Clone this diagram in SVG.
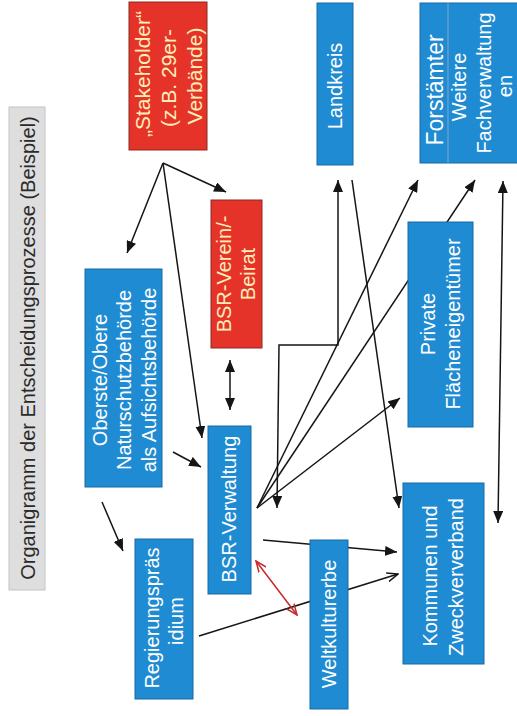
<svg xmlns="http://www.w3.org/2000/svg" width="517" height="716" viewBox="0 0 517 716">
<style>
text{font-family:"Liberation Sans",Arial,sans-serif;font-size:20px;text-anchor:middle}
.blue{fill:#1f8bd2;stroke:#1869a6;stroke-width:1}
.red{fill:#e5332a;stroke:#8a2a22;stroke-width:1}
.wt{fill:#ffffff}
.yt{fill:#fdeeb8}
.ln{fill:none;stroke:#151515;stroke-width:1.5}
.rl{fill:none;stroke:#c8282a;stroke-width:1.5}
</style>
<defs>
<marker id="ah" viewBox="0 0 12 10" refX="12" refY="5" markerWidth="12" markerHeight="10" markerUnits="userSpaceOnUse" orient="auto-start-reverse"><path d="M0,0 L12,5 L0,10 z" fill="#151515"/></marker>
<marker id="oa" viewBox="0 0 12 10" refX="11" refY="5" markerWidth="12" markerHeight="10" markerUnits="userSpaceOnUse" orient="auto-start-reverse"><path d="M0,0.5 L11,5 L0,9.5" fill="none" stroke="#151515" stroke-width="1.5"/></marker>
<marker id="ra" viewBox="0 0 12 10" refX="11" refY="5" markerWidth="12" markerHeight="10" markerUnits="userSpaceOnUse" orient="auto-start-reverse"><path d="M0,0.5 L11,5 L0,9.5" fill="none" stroke="#c8282a" stroke-width="1.5"/></marker>
</defs>
<rect width="517" height="716" fill="#ffffff"/>
<g id="connectors">
<path class="ln" d="M163,163 L127,253" marker-end="url(#ah)"/>
<path class="ln" d="M163,163 L226,192" marker-end="url(#ah)"/>
<path class="ln" d="M163,163 L202,438" marker-end="url(#ah)"/>
<path class="ln" d="M102,502 L123,551" marker-end="url(#ah)"/>
<path class="ln" d="M173,452 L201,467" marker-end="url(#ah)"/>
<path class="ln" d="M230,360 L230,410" marker-start="url(#ah)" marker-end="url(#ah)"/>
<path class="ln" d="M338,180 L338,345 L279,345 L277,508" marker-start="url(#ah)" marker-end="url(#ah)"/>
<path class="ln" d="M352,180 L399,508" marker-end="url(#ah)"/>
<path class="ln" d="M257,508 L418,180" marker-end="url(#ah)"/>
<path class="ln" d="M257,508 L475,180" marker-end="url(#ah)"/>
<path class="ln" d="M257,508 L400,398" marker-end="url(#ah)"/>
<path class="ln" d="M503,181 L498,523" marker-start="url(#ah)" marker-end="url(#ah)"/>
<path class="ln" d="M263,540 L397,552" marker-end="url(#ah)"/>
<path class="ln" d="M199,636 L398,574" marker-end="url(#oa)"/>
<path class="rl" d="M256,561 L297,615" marker-start="url(#ra)" marker-end="url(#ra)"/>
</g>
<g id="title">
<rect x="9" y="107" width="36" height="483" fill="#dedede" stroke="#c4c4c4" stroke-width="1"/>
<text fill="#2a2a2a" transform="translate(35,348) rotate(-90)">Organigramm der Entscheidungsprozesse (Beispiel)</text>
</g>
<g id="stakeholder">
<rect class="red" x="129" y="2" width="78" height="148"/>
<text class="yt" style="font-size:21px" transform="translate(150,74) rotate(-90)">„Stakeholder“</text>
<text class="yt" style="font-size:21px" transform="translate(176,78) rotate(-90)">(z.B. 29er-</text>
<text class="yt" style="font-size:21px" transform="translate(202,76) rotate(-90)">Verbände)</text>
</g>
<g id="landkreis">
<rect class="blue" x="317" y="3" width="36" height="162"/>
<text class="wt" transform="translate(342,86) rotate(-90)">Landkreis</text>
</g>
<g id="fachverwaltungen">
<rect class="blue" x="420" y="3" width="100" height="160"/>
<line x1="448" y1="3" x2="448" y2="163" stroke="#8aa6c0" stroke-width="1"/>
<text class="wt" style="font-size:23px" transform="translate(443,90) rotate(-90)">Forstämter</text>
<text class="wt" transform="translate(466,87) rotate(-90)">Weitere</text>
<text class="wt" transform="translate(491,83) rotate(-90)">Fachverwaltung</text>
<text class="wt" transform="translate(512,86) rotate(-90)">en</text>
</g>
<g id="bsr-verein">
<rect class="red" x="211" y="200" width="51" height="148"/>
<text class="yt" transform="translate(231,274) rotate(-90)">BSR-Verein/-</text>
<text class="yt" transform="translate(255,274) rotate(-90)">Beirat</text>
</g>
<g id="oberste">
<rect class="blue" x="85" y="269" width="77" height="218"/>
<text class="wt" transform="translate(107,380) rotate(-90)">Oberste/Obere</text>
<text class="wt" transform="translate(131,380) rotate(-90)">Naturschutzbehörde</text>
<text class="wt" transform="translate(156,380) rotate(-90)">als Aufsichtsbehörde</text>
</g>
<g id="private">
<rect class="blue" x="408" y="222" width="65" height="205"/>
<text class="wt" transform="translate(435,324) rotate(-90)">Private</text>
<text class="wt" transform="translate(460,324) rotate(-90)">Flächeneigentümer</text>
</g>
<g id="bsr-verwaltung">
<rect class="blue" x="208" y="426" width="43" height="168"/>
<text class="wt" transform="translate(236,509) rotate(-90)">BSR-Verwaltung</text>
</g>
<g id="regierungspraesidium">
<rect class="blue" x="135" y="539" width="58" height="160"/>
<text class="wt" transform="translate(159,618) rotate(-90)">Regierungspräs</text>
<text class="wt" transform="translate(183,621) rotate(-90)">idium</text>
</g>
<g id="weltkulturerbe">
<rect class="blue" x="310" y="540" width="38" height="169"/>
<text class="wt" transform="translate(336,624) rotate(-90)">Weltkulturerbe</text>
</g>
<g id="kommunen">
<rect class="blue" x="403" y="483" width="81" height="181"/>
<text class="wt" transform="translate(437,576) rotate(-90)">Kommunen und</text>
<text class="wt" transform="translate(463,577) rotate(-90)">Zweckververband</text>
</g>
</svg>
